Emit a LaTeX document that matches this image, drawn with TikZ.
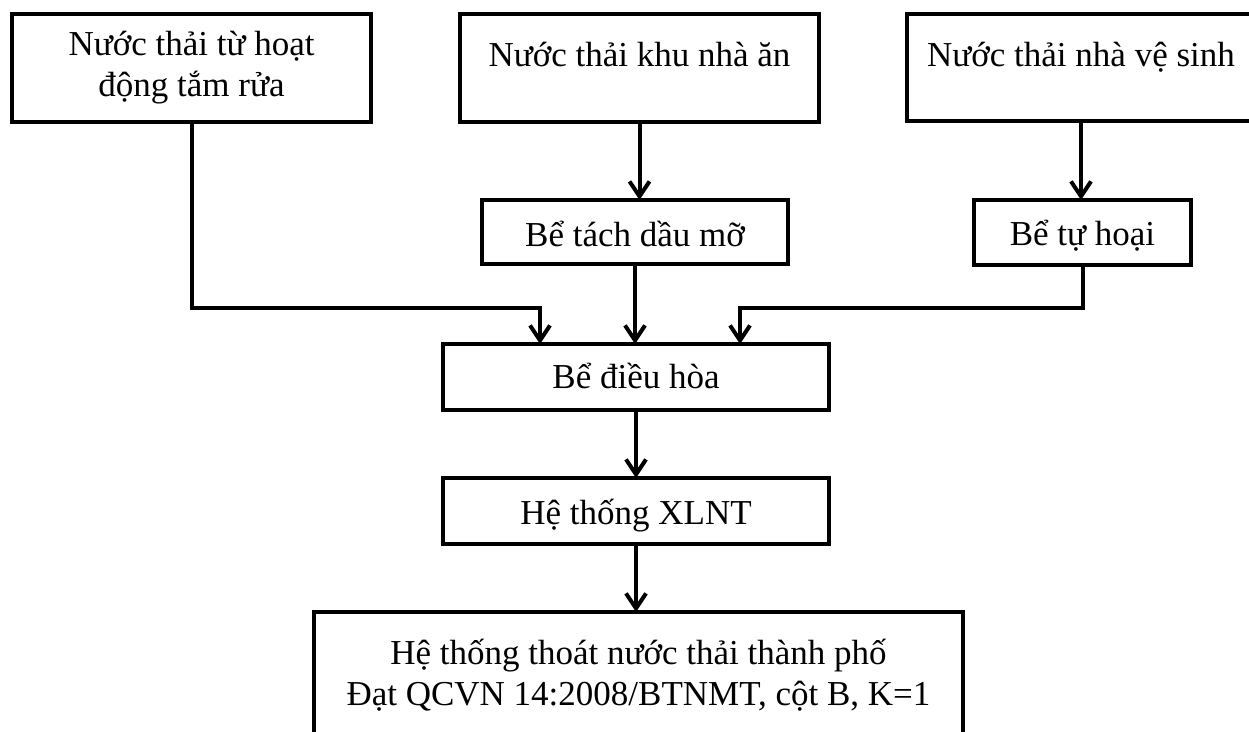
\documentclass[tikz,border=0pt]{standalone}
\usepackage{fontspec}
\setmainfont{Liberation Serif}
\usetikzlibrary{arrows.meta,calc}
\begin{document}
\begin{tikzpicture}[x=1pt,y=-1pt,
  box/.style={draw,line width=4pt,rectangle,inner sep=0pt,outer sep=0pt,anchor=north west},
  lbl/.style={anchor=base,inner sep=0pt,font=\fontsize{35pt}{40pt}\selectfont},
  arr/.style={line width=4pt,-{Straight Barb[length=15pt,width=20pt]}}]
\useasboundingbox (0,0) rectangle (1249,731);
% boxes
\node[box,minimum width=359pt,minimum height=108pt] (b1) at (12,14) {};
\node[box,minimum width=359pt,minimum height=108pt] (b2) at (460,14) {};
\node[box,minimum width=348pt,minimum height=107pt] (b3) at (907,14) {};
\node[box,minimum width=306pt,minimum height=64pt] (bt) at (482,200) {};
\node[box,minimum width=217pt,minimum height=65pt] (th) at (974,200) {};
\node[box,minimum width=386pt,minimum height=66pt] (dh) at (443,344) {};
\node[box,minimum width=386pt,minimum height=66pt] (xl) at (443,478) {};
\node[box,minimum width=649pt,minimum height=160pt] (out) at (314,612) {};
% texts
\node[lbl] (t1a) at (191.5,55) {Nước thải từ hoạt};
\node[lbl] (t1b) at (191.5,96) {động tắm rửa};
\node[lbl] (t2) at (639.5,66) {Nước thải khu nhà ăn};
\node[lbl] (t3) at (1081,66) {Nước thải nhà vệ sinh};
\node[lbl] (tbt) at (635,246) {Bể tách dầu mỡ};
\node[lbl] (tth) at (1082.5,245) {Bể tự hoại};
\node[lbl] (tdh) at (636,388) {Bể điều hòa};
\node[lbl] (txl) at (636,524) {Hệ thống XLNT};
\node[lbl] (to1) at (638.5,664) {Hệ thống thoát nước thải thành phố};
\node[lbl] (to2) at (638.5,705) {Đạt QCVN 14:2008/BTNMT, cột B, K=1};
% connectors
\coordinate (j1) at (540,308);
\coordinate (j2) at (740,308);
\draw[arr] (b1.south) |- (j1) -- (j1 |- dh.north);
\draw[arr] (b2.south) -- (b2.south |- bt.north);
\draw[arr] (b3.south) -- (b3.south |- th.north);
\draw[arr] (bt.south) -- (bt.south |- dh.north);
\draw[arr] (th.south) |- (j2) -- (j2 |- dh.north);
\draw[arr] (dh.south) -- (dh.south |- xl.north);
\draw[arr] (xl.south) -- (xl.south |- out.north);
\end{tikzpicture}
\end{document}
